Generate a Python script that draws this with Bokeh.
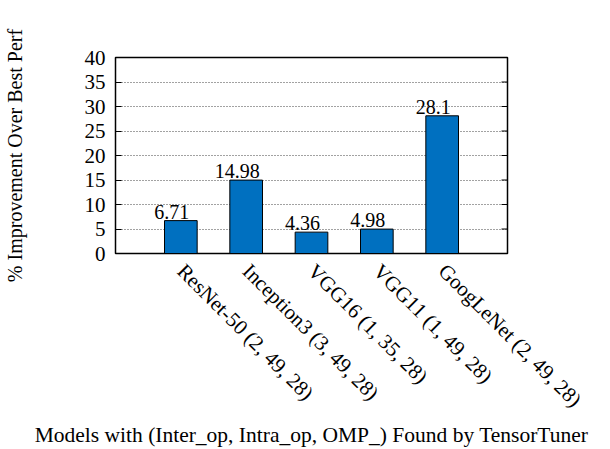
import math
from bokeh.plotting import figure
from bokeh.models import Range1d, FixedTicker, ColumnDataSource
from bokeh.core.properties import value
from bokeh.embed import file_html
from bokeh.resources import INLINE

models = ["ResNet-50 (2, 49, 28)", "Inception3 (3, 49, 28)", "VGG16 (1, 35, 28)",
          "VGG11 (1, 49, 28)", "GoogLeNet (2, 49, 28)"]
improvement = [6.71, 14.98, 4.36, 4.98, 28.1]
value_labels = ["6.71", "14.98", "4.36", "4.98", "28.1"]
y_ticks = [0, 5, 10, 15, 20, 25, 30, 35, 40]

FONT = "Liberation Serif"
positions = [i + 1 for i in range(len(models))]
src = ColumnDataSource(dict(x=positions, top=improvement, lab=value_labels))
x_end = len(models) + 1

p = figure(output_backend="svg", toolbar_location=None,
           frame_width=392, frame_height=196,
           min_border_left=109, min_border_top=57, min_border_right=93, min_border_bottom=170,
           x_range=Range1d(0, x_end), y_range=Range1d(0, 40))

p.vbar(x="x", top="top", width=0.5, bottom=0, source=src,
       fill_color="#0070C0", line_color="black", line_width=1)
p.text(x="x", y="top", text="lab", source=src, text_align="center", text_baseline="bottom",
       text_font=value(FONT), text_font_size="20px", text_color="black",
       x_offset=-9, y_offset=-2)

# inward ticks on the right side of the frame
p.ray(x=[x_end] * len(y_ticks), y=y_ticks, length=6, length_units="screen",
      angle=math.pi, line_color="black", line_width=1)

p.xaxis.ticker = FixedTicker(ticks=positions)
p.xaxis.major_label_overrides = {pos: m for pos, m in zip(positions, models)}
p.xaxis.major_label_orientation = -math.pi / 4
p.xaxis.major_tick_line_color = None
p.xaxis.minor_tick_line_color = None
p.xaxis.major_label_text_font = FONT
p.xaxis.major_label_text_font_size = "21px"
p.xaxis.major_label_text_color = "black"
p.xaxis.axis_line_color = "black"
p.xaxis.axis_label = "Models with (Inter_op, Intra_op, OMP_) Found by TensorTuner"
p.xaxis.axis_label_text_font = FONT
p.xaxis.axis_label_text_font_style = "normal"
p.xaxis.axis_label_text_font_size = "21.5px"
p.xaxis.axis_label_text_color = "black"
p.xaxis.axis_label_standoff = 0
p.xaxis.major_label_standoff = 8

p.yaxis.ticker = FixedTicker(ticks=y_ticks)
p.yaxis.major_tick_in = 6
p.yaxis.major_tick_out = 0
p.yaxis.minor_tick_line_color = None
p.yaxis.major_label_text_font = FONT
p.yaxis.major_label_text_font_size = "21px"
p.yaxis.major_label_text_color = "black"
p.yaxis.major_label_standoff = 10
p.yaxis.axis_label = "% Improvement Over Best Perf"
p.yaxis.axis_label_text_font = FONT
p.yaxis.axis_label_text_font_style = "normal"
p.yaxis.axis_label_text_font_size = "20px"
p.yaxis.axis_label_text_color = "black"
p.yaxis.axis_label_standoff = 56

p.xgrid.grid_line_color = None
p.ygrid.ticker = FixedTicker(ticks=y_ticks[1:-1])
p.ygrid.grid_line_color = "#444444"
p.ygrid.grid_line_dash = "1 2"
p.ygrid.grid_line_width = 1

p.outline_line_color = "black"
p.outline_line_width = 1.5
p.background_fill_color = "white"
p.border_fill_color = "white"

open("out.html", "w").write(file_html(p, INLINE))
